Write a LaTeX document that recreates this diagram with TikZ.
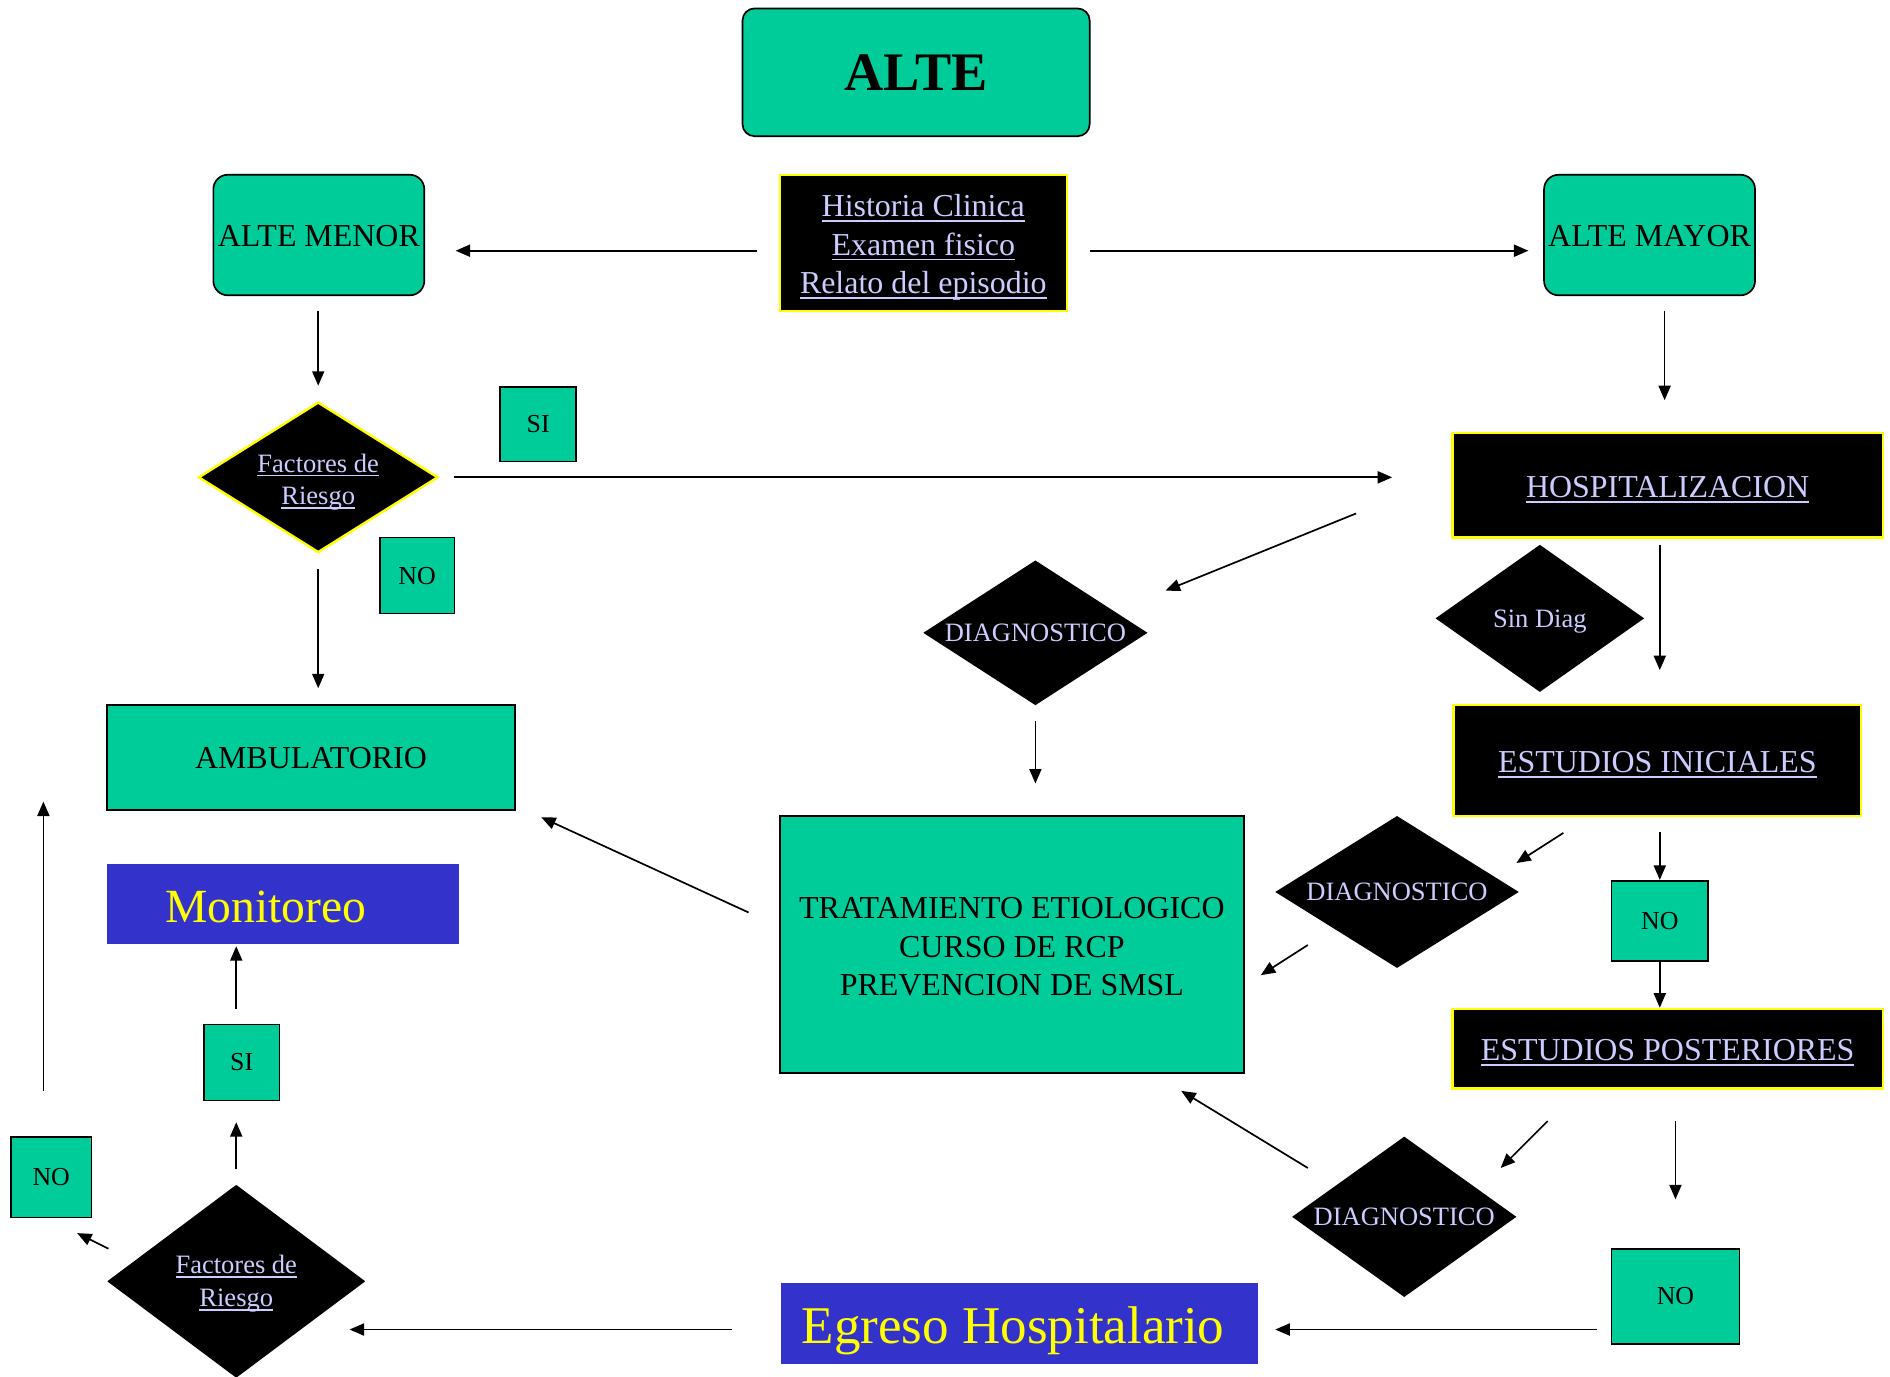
\documentclass[tikz,border=0pt]{standalone}
\usepackage{fontspec}
\setmainfont{Liberation Serif}
\usetikzlibrary{shapes.geometric,arrows.meta}
\definecolor{pgreen}{RGB}{0,204,153}
\definecolor{pblue}{RGB}{51,51,204}
\definecolor{pyellow}{RGB}{255,255,0}
\definecolor{plav}{RGB}{204,204,255}
\newdimen\ULdp \ULdp=4.3pt
\newdimen\ULth \ULth=1.5pt
\newcommand\ulbig{\ULdp=4.3pt\relax\ULth=1.5pt\relax}
\newcommand\ulsmall{\ULdp=3.6pt\relax\ULth=1.3pt\relax}
\newcommand\undl[1]{\leavevmode\setbox0\hbox{#1}\rlap{\smash{\rule[-\ULdp]{\wd0}{\ULth}}}\box0}
\newcommand\topstrut[1]{\rule{0pt}{#1}}
\begin{document}
\begin{tikzpicture}[x=1pt,y=-1pt,
  base/.style={inner sep=0pt, outer sep=0pt, align=center},
  gbox/.style={base, rectangle, fill=pgreen, draw=black, line width=1.4pt, text=black},
  kbox/.style={base, rectangle, fill=black, draw=pyellow, line width=2pt, text=plav},
  bbox/.style={base, rectangle, fill=pblue, text=pyellow},
  kdia/.style={base, diamond, fill=black, text=plav},
  bigf/.style={font={\fontsize{26.5}{32}\selectfont\ulbig}},
  smallf/.style={font={\fontsize{22}{27}\selectfont\ulsmall}},
  tinyf/.style={font={\fontsize{21.5}{25}\selectfont}},
  arr/.style={-{Triangle[length=12pt,width=10pt]}, line width=1.4pt}
]
\path[use as bounding box, fill=white] (0,0) rectangle (1568,1142);

% nodes
\node[gbox, rounded corners=10pt, minimum width=288pt, minimum height=106pt,
      font={\fontsize{45}{50}\selectfont\bfseries}] (alte) at (760,60) {ALTE};
\node[kbox, bigf, minimum width=238pt, minimum height=113pt] (hist) at (766,201.5)
  {\topstrut{26pt}\undl{Historia Clinica}\\ \undl{Examen fisico}\\ \undl{Relato del episodio}};
\node[gbox, bigf, rounded corners=12pt, minimum width=175pt, minimum height=100pt,
      text height=19.5pt, text depth=0pt] (menor) at (264.5,195) {ALTE MENOR};
\node[gbox, bigf, rounded corners=12pt, minimum width=175pt, minimum height=100pt,
      text height=19.5pt, text depth=0pt] (mayor) at (1368.5,195) {ALTE MAYOR};

\node[kdia, smallf, draw=pyellow, line width=2pt, minimum width=198pt, minimum height=124pt, aspect=1.6] (fr1) at (264,396)
  {\topstrut{23pt}\undl{Factores de}\\ \undl{Riesgo}};
\node[gbox, tinyf, minimum width=63pt, minimum height=62pt] (si1) at (446.5,352) {SI};
\node[gbox, tinyf, minimum width=62pt, minimum height=63pt] (no1) at (346,477.5) {NO};

\node[kbox, bigf, minimum width=357pt, minimum height=87pt,
      text height=20.5pt, text depth=0pt] (hosp) at (1383.5,402.5) {\undl{HOSPITALIZACION}};
\node[kdia, smallf, minimum width=173pt, minimum height=122pt, aspect=1.42,
      text height=15pt, text depth=0pt] (sindiag) at (1277.5,513) {Sin Diag};
\node[kdia, smallf, minimum width=186pt, minimum height=120pt, aspect=1.55] (diag1) at (859,525) {DIAGNOSTICO};
\node[kbox, bigf, minimum width=338pt, minimum height=92pt,
      text height=19.5pt, text depth=0pt] (ei) at (1375,631) {\undl{ESTUDIOS INICIALES}};

\node[gbox, bigf, minimum width=385pt, minimum height=213pt] (trat) at (839.5,783.5)
  {\topstrut{21.5pt}TRATAMIENTO ETIOLOGICO\\ CURSO DE RCP\\ PREVENCION DE SMSL};
\node[gbox, bigf, minimum width=338pt, minimum height=87pt,
      text height=18.5pt, text depth=0pt] (amb) at (258,628.5) {AMBULATORIO};

\node[kdia, smallf, minimum width=202pt, minimum height=126pt, aspect=1.6] (diag2) at (1159,740) {DIAGNOSTICO};
\node[gbox, tinyf, minimum width=80pt, minimum height=66pt] (no2) at (1377,764) {NO};
\node[kbox, bigf, minimum width=357pt, minimum height=66pt,
      text height=19.5pt, text depth=0pt] (ep) at (1383.5,870) {\undl{ESTUDIOS POSTERIORES}};
\node[kdia, smallf, minimum width=186pt, minimum height=133pt, aspect=1.4] (diag3) at (1165,1009.5) {DIAGNOSTICO};
\node[gbox, tinyf, minimum width=106pt, minimum height=79pt] (no3) at (1390,1075.5) {NO};

\node[bbox, minimum width=396pt, minimum height=68pt, font={\fontsize{44}{50}\selectfont},
      text height=33pt, text depth=0pt] (egreso) at (846,1098)
  {\hbox{Egreso Hospitalario\kern11pt}};
\node[kdia, smallf, minimum width=214pt, minimum height=160pt, aspect=1.34] (fr2) at (196,1063)
  {\topstrut{19pt}\undl{Factores de}\\ \undl{Riesgo}};
\node[gbox, tinyf, minimum width=63pt, minimum height=63pt] (si2) at (200.5,881.5) {SI};
\node[bbox, minimum width=292pt, minimum height=66pt, font={\fontsize{39.5}{45}\selectfont},
      text height=30pt, text depth=0pt] (mon) at (235,750)
  {\hbox{Monitoreo\kern29pt}};
\node[gbox, tinyf, minimum width=67pt, minimum height=67pt] (no4) at (42.5,976.5) {NO};

% connectors
\draw[arr] ([shift={(-19,6.5)}]hist.west) -- ([shift={(26,13)}]menor.east);
\draw[arr] ([shift={(19,6.5)}]hist.east) -- ([shift={(-13,13)}]mayor.west);
\draw[arr] ([shift={(-0.5,13)}]menor.south) -- ([shift={(0,-14)}]fr1.north);
\draw[arr] ([shift={(12.5,13)}]mayor.south) -- ([shift={(-2.5,-27)}]hosp.north);
\draw[arr] ([shift={(14,0)}]fr1.east) -- ([shift={(-50,-6.5)}]hosp.west);
\draw[arr] ([shift={(0,14)}]fr1.south) -- ([shift={(6,-14)}]amb.north);
\draw[arr] ([shift={(-80,23.5)}]hosp.west) -- ([shift={(15,-35)}]diag1.east);
\draw[arr] ([shift={(-6.5,6)}]hosp.south) -- ([shift={(2,-29)}]ei.north);
\draw[arr] ([shift={(0,13)}]diag1.south) -- ([shift={(19.5,-27)}]trat.north);
\draw[arr] ([shift={(-26,-26.5)}]trat.west) -- ([shift={(22,6)}]amb.south east);
\draw[arr] ([shift={(-78,14)}]ei.south) -- ([shift={(-2,-24)}]diag2.east);
\draw[arr] ([shift={(27,44)}]diag2.west) -- ([shift={(14,25.5)}]trat.east);
\draw[arr] ([shift={(2,13)}]ei.south) -- ([shift={(0,-1)}]no2.north);
\draw[arr] (no2.south) -- ([shift={(-6.5,-1)}]ep.north);
\draw[arr] ([shift={(-99.5,27)}]ep.south) -- ([shift={(-13,-40.5)}]diag3.east);
\draw[arr] ([shift={(6.5,27)}]ep.south) -- ([shift={(0,-41)}]no3.north);
\draw[arr] ([shift={(13,-40.5)}]diag3.west) -- ([shift={(-52,15)}]trat.south east);
\draw[arr] ([shift={(-12,27.5)}]no3.west) -- ([shift={(14,5)}]egreso.east);
\draw[arr] ([shift={(-41,5)}]egreso.west) -- ([shift={(-13,40)}]fr2.east);
\draw[arr] ([shift={(0,-13)}]fr2.north) -- ([shift={(-4.5,18)}]si2.south);
\draw[arr] ([shift={(-4.5,-13)}]si2.north) -- ([shift={(-39,2)}]mon.south);
\draw[arr] ([shift={(1,-27)}]fr2.west) -- ([shift={(-12,13)}]no4.south east);
\draw[arr] ([shift={(-6.5,-38)}]no4.north) -- ([shift={(-53,36.5)}]amb.west);
\end{tikzpicture}
\end{document}
